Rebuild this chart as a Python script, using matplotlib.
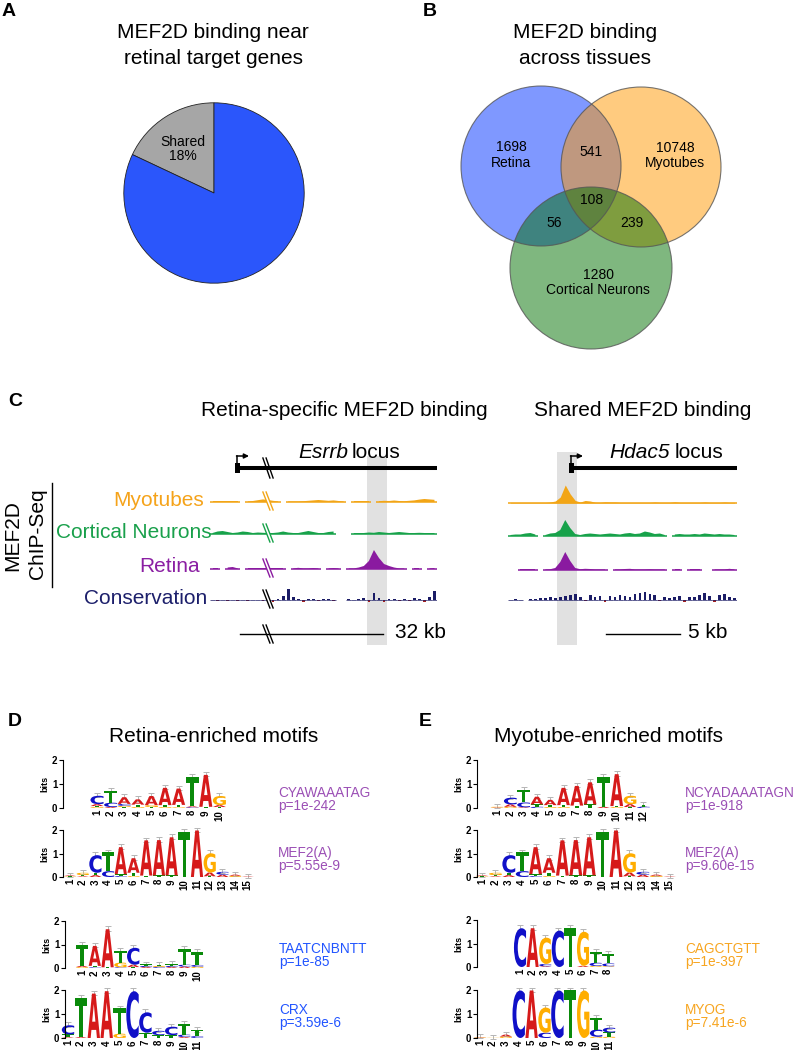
import numpy as np
import matplotlib
matplotlib.use("Agg")
import matplotlib.pyplot as plt
import matplotlib.transforms as mtransforms
from matplotlib.patches import Circle, Rectangle, PathPatch, Polygon
from matplotlib.textpath import TextPath
from matplotlib.font_manager import FontProperties

nan = np.nan

# ============================
# data
# ============================
# panel A
pie_labels = ["Shared", "Retina-specific"]
pie_values = [18, 82]

# panel B (venn region counts)
venn_names = ["Retina", "Myotubes", "Cortical Neurons"]
venn_only = [1698, 10748, 1280]
venn_ret_myo = 541
venn_ret_cort = 56
venn_myo_cort = 239
venn_all = 108

# panel C, signal height per genomic bin (nan = no data)
esrrb_myotubes = [0.6, 0.6, 0.6, 0.6, 0.6, 0.6, nan, 0.6, 1.0, 1.8, 2.6, 2.0, 1.2, 0.6, nan,
                  0.6, 0.6, 0.6, 0.8, 1.2, 1.6, 2.0, 1.6, 1.2, 1.6, 1.0, 0.6, nan, 0.6, 0.6,
                  0.6, 0.6, nan, 0.8, 1.2, 1.0, 1.5, 1.0, 0.8, 1.2, 1.6, 2.4, 3.0, 2.6, 2.2]
esrrb_cortical = [1.0, 2.5, 3.0, 2.0, 1.0, 1.5, 2.5, 2.0, 1.0, 1.5, 1.2, 1.0, 1.0, 1.5, 2.5,
                  1.5, 1.0, 1.0, 2.0, 3.0, 2.0, 1.0, 1.0, 2.0, 2.5, nan, nan, nan, 1.0, 1.0,
                  1.0, 1.5, 1.2, 2.0, 1.5, 1.0, 1.5, 2.0, 1.5, 1.0, 1.0, 1.2, 1.0, 1.0, 1.0]
esrrb_retina = [0.6, 0.6, nan, 1.5, 2.0, 0.6, nan, 0.6, 0.6, 0.6, 0.6, 0.6, 0.6, 0.6, 0.6,
                nan, 0.6, 1.2, 0.6, 0.6, 1.0, 0.6, nan, 0.6, 1.0, 0.6, nan, 0.6, 0.6, 1.5,
                3.0, 8.0, 19.0, 11.0, 5.0, 3.0, 1.5, 0.6, 0.6, nan, 0.6, 0.6, nan, 0.6, 1.0]
esrrb_conservation = [0.5, -0.5, 0.5, -0.5, 0.5, -0.5, 0.5, -0.5, 0.5, 0.5, -1.0, 1.0, -1.5, 1.5, 4.0,
                      11.0, 3.0, 1.5, -1.5, 1.0, 1.0, -1.0, 1.5, 1.0, -1.0, nan, nan, 1.0, 0.5, 1.0,
                      2.0, -2.0, 7.0, 2.0, -2.0, 1.5, 1.0, -1.0, 1.5, -1.0, 2.0, 1.0, -2.0, 3.0, 9.0]

hdac5_myotubes = [0.6, 0.6, 0.6, 0.6, 0.6, 0.6, 0.6, 0.6, 1.0, 2.0, 6.0, 18.0, 9.0, 2.5, 1.0,
                  2.5, 2.0, 0.8, 0.6, 1.2, 1.0, 1.0, 0.6, 0.6, 0.6, 0.6, 0.6, 0.6, 0.6, 1.0,
                  0.6, 0.6, 0.6, 1.2, 0.6, 0.6, 0.6, 0.6, 0.6, 1.0, 0.6, 0.6, 0.6, 1.0, 0.6, 0.6]
hdac5_cortical = [1.0, 1.5, 1.5, 2.5, 3.0, 1.5, nan, 1.0, 2.5, 3.0, 6.0, 16.0, 8.0, 2.0, 1.0,
                  2.0, 2.5, 2.0, 1.5, 2.0, 2.5, 2.0, 1.5, 2.5, 3.0, 2.0, 2.5, 4.5, 3.5, 2.0,
                  2.5, 1.0, nan, 1.5, 2.0, 1.5, 1.5, 2.0, 1.5, 2.5, 2.0, 1.5, 2.0, 1.5, 1.5, 1.0]
hdac5_retina = [nan, nan, 0.6, 0.6, 0.6, 0.6, nan, 0.6, 0.8, 2.0, 8.0, 18.0, 9.0, 2.0, 0.8,
                1.2, 1.0, 0.6, 0.6, 0.6, nan, 0.6, 0.6, 1.0, 1.2, 0.6, 0.6, 0.6, 0.8, 0.6,
                0.6, 0.6, nan, 0.6, 0.6, nan, 0.6, 0.6, 0.6, nan, nan, 0.6, 0.6, 0.6, 1.2, 0.6]
hdac5_conservation = [0.5, 1.0, 0.5, nan, 1.0, 1.5, 2.0, 2.5, 3.0, 2.0, 3.5, 4.5, 5.0, 6.0, 3.0,
                      -1.0, 5.5, 3.0, 4.0, -1.5, 4.0, 3.0, 5.0, 4.5, 3.0, 6.0, 7.0, 8.0, 6.0, 5.0,
                      -1.0, 3.0, 2.0, 3.5, 4.0, -2.0, 3.0, 3.5, 5.0, 7.0, 4.0, -1.5, 5.0, 6.0, 3.0, 2.0]

track_names = ["Myotubes", "Cortical Neurons", "Retina", "Conservation"]

# panels D / E, information content (bits) per letter per position
retina_motif = [{'C': 0.35, 'A': 0.08, 'G': 0.04, 'T': 0.04}, {'T': 0.5, 'C': 0.18, 'A': 0.04},
                {'A': 0.28, 'C': 0.08, 'G': 0.05, 'T': 0.04}, {'A': 0.22, 'T': 0.1, 'G': 0.04},
                {'A': 0.38, 'G': 0.08, 'T': 0.04}, {'A': 0.72, 'T': 0.08, 'G': 0.04},
                {'A': 0.68, 'T': 0.1, 'G': 0.03}, {'T': 1.22, 'A': 0.04, 'C': 0.03},
                {'A': 1.33, 'T': 0.05}, {'G': 0.38, 'A': 0.08, 'T': 0.04}]
mef2a_motif = [{'A': 0.03, 'G': 0.02, 'T': 0.02}, {'G': 0.1, 'T': 0.05, 'A': 0.03},
               {'C': 0.75, 'T': 0.1, 'A': 0.08}, {'T': 0.8, 'C': 0.25},
               {'A': 1.15, 'T': 0.08, 'C': 0.04}, {'A': 0.62, 'T': 0.14, 'G': 0.04},
               {'A': 1.5, 'T': 0.06}, {'A': 1.5, 'T': 0.07}, {'A': 1.62, 'T': 0.07},
               {'T': 1.93}, {'A': 1.98}, {'G': 0.82, 'A': 0.16, 'T': 0.03},
               {'C': 0.12, 'A': 0.1}, {'G': 0.05, 'A': 0.05}, {'A': 0.02}]
homeo_motif = [{'T': 0.9, 'A': 0.05, 'G': 0.04}, {'A': 0.85, 'T': 0.06, 'C': 0.03},
               {'A': 1.62, 'T': 0.03}, {'T': 0.5, 'G': 0.2, 'C': 0.03},
               {'C': 0.72, 'A': 0.1, 'T': 0.04}, {'T': 0.06, 'C': 0.05, 'A': 0.04},
               {'G': 0.05, 'T': 0.05, 'C': 0.04}, {'T': 0.07, 'C': 0.05, 'A': 0.04},
               {'T': 0.68, 'C': 0.08, 'A': 0.06}, {'T': 0.55, 'C': 0.08, 'G': 0.05}]
crx_motif = [{'C': 0.38, 'T': 0.12, 'A': 0.03}, {'T': 1.62, 'A': 0.04}, {'A': 1.85},
             {'A': 1.95}, {'T': 1.05, 'G': 0.18}, {'C': 1.95}, {'C': 0.85, 'T': 0.22},
             {'C': 0.18, 'T': 0.12}, {'C': 0.35, 'T': 0.12}, {'T': 0.45, 'C': 0.1, 'A': 0.04},
             {'T': 0.25, 'C': 0.08}]
myotube_motif = [{'G': 0.03, 'A': 0.02}, {'C': 0.28, 'A': 0.1, 'G': 0.05},
                 {'T': 0.52, 'C': 0.2, 'A': 0.03}, {'A': 0.32, 'T': 0.1, 'C': 0.05},
                 {'A': 0.22, 'T': 0.08, 'G': 0.04}, {'A': 0.72, 'T': 0.08, 'G': 0.04},
                 {'A': 0.82, 'T': 0.1}, {'A': 0.92, 'T': 0.15}, {'T': 1.25, 'A': 0.05},
                 {'A': 1.33, 'G': 0.04, 'T': 0.04}, {'G': 0.35, 'A': 0.12, 'T': 0.04},
                 {'T': 0.08, 'C': 0.05}]
ebox_motif = [{'C': 1.65}, {'A': 1.65}, {'G': 1.12, 'C': 0.1, 'A': 0.03}, {'C': 1.55},
              {'T': 1.65}, {'G': 1.45, 'A': 0.05}, {'T': 0.45, 'C': 0.14, 'G': 0.04},
              {'T': 0.4, 'C': 0.12, 'G': 0.03}]
myog_motif = [{'A': 0.02, 'G': 0.02}, {'G': 0.01}, {'A': 0.08, 'G': 0.06}, {'C': 1.98},
              {'A': 1.98}, {'G': 1.05, 'C': 0.22}, {'C': 1.98}, {'T': 1.98}, {'G': 1.98},
              {'T': 0.5, 'C': 0.3, 'G': 0.05}, {'T': 0.18, 'C': 0.2, 'G': 0.05}]

motif_names = ["CYAWAAATAG", "MEF2(A)", "TAATCNBNTT", "CRX",
               "NCYADAAATAGN", "MEF2(A)", "CAGCTGTT", "MYOG"]
motif_pvals = ["p=1e-242", "p=5.55e-9", "p=1e-85", "p=3.59e-6",
               "p=1e-918", "p=9.60e-15", "p=1e-397", "p=7.41e-6"]

# ============================
# figure setup
# ============================
W, H = 801, 1050
plt.rcParams['font.family'] = ['Liberation Sans', 'DejaVu Sans']
fig = plt.figure(figsize=(W / 100, H / 100), dpi=100)


def px_axes(x0, y0, w, h, z=1):
    ax = fig.add_axes([x0 / W, 1 - (y0 + h) / H, w / W, h / H])
    ax.set_zorder(z)
    ax.patch.set_alpha(0)
    return ax


bg = px_axes(0, 0, W, H, z=0)
bg.set_xlim(0, W); bg.set_ylim(H, 0); bg.axis('off')
fg = px_axes(0, 0, W, H, z=5)
fg.set_xlim(0, W); fg.set_ylim(H, 0); fg.axis('off')

TITLE = 15
for lab, x, y in [("A", 9, 12), ("B", 430, 11), ("C", 15, 401), ("D", 15, 722), ("E", 425, 722)]:
    fg.text(x, y, lab, fontsize=14, fontweight='bold', ha='center', va='center')

# ============================
# A: pie
# ============================
fg.text(213, 33, "MEF2D binding near", fontsize=TITLE, ha='center', va='center')
fg.text(213, 58, "retinal target genes", fontsize=TITLE, ha='center', va='center')
pax = px_axes(122, 101, 184, 184, z=2)
pax.pie(pie_values, colors=["#a6a6a6", "#2b56fb"], startangle=90, counterclock=True,
        wedgeprops=dict(edgecolor="#222222", linewidth=0.6))
pax.set_xlim(-1.02, 1.02); pax.set_ylim(-1.02, 1.02)
fg.text(183, 142, pie_labels[0], fontsize=10, ha='center', va='center')
fg.text(183, 156, f"{pie_values[0]}%", fontsize=10, ha='center', va='center')

# ============================
# B: venn
# ============================
fg.text(585, 33, "MEF2D binding", fontsize=TITLE, ha='center', va='center')
fg.text(585, 58, "across tissues", fontsize=TITLE, ha='center', va='center')
circles = [((541, 166), 80, (0.0, 0.2, 1.0)),
           ((641, 167), 80, (1.0, 0.6, 0.0)),
           ((591, 268), 81, (0.0, 0.44, 0.0))]
for c, r, col in circles:
    bg.add_patch(Circle(c, r, facecolor=col, alpha=0.5, lw=0))
for c, r, col in circles:
    bg.add_patch(Circle(c, r, facecolor='none', edgecolor='#555555', lw=0.8, alpha=0.8))
vfs = 10
fg.text(511, 147, str(venn_only[0]), fontsize=vfs, ha='center', va='center')
fg.text(511, 163, venn_names[0], fontsize=vfs, ha='center', va='center')
fg.text(675, 148, str(venn_only[1]), fontsize=vfs, ha='center', va='center')
fg.text(675, 163, venn_names[1], fontsize=vfs, ha='center', va='center')
fg.text(598, 275, str(venn_only[2]), fontsize=vfs, ha='center', va='center')
fg.text(598, 290, venn_names[2], fontsize=vfs, ha='center', va='center')
fg.text(591, 152, str(venn_ret_myo), fontsize=vfs, ha='center', va='center')
fg.text(592, 200, str(venn_all), fontsize=vfs, ha='center', va='center')
fg.text(554, 223, str(venn_ret_cort), fontsize=vfs, ha='center', va='center')
fg.text(632, 223, str(venn_myo_cort), fontsize=vfs, ha='center', va='center')

# ============================
# C: genome tracks
# ============================
fg.text(344, 410, "Retina-specific MEF2D binding", fontsize=TITLE, ha='center', va='center')
fg.text(643, 410, "Shared MEF2D binding", fontsize=TITLE, ha='center', va='center')

# highlighted peak regions
bg.add_patch(Rectangle((367, 456), 20, 189, facecolor='#e1e1e1', lw=0))
bg.add_patch(Rectangle((557, 452), 20, 193, facecolor='#e1e1e1', lw=0))

# gene models
fg.plot([235, 437], [468, 468], color='k', lw=2.9, solid_capstyle='butt')
fg.plot([572, 737], [468, 468], color='k', lw=2.9, solid_capstyle='butt')
for xs in (235, 569):
    fg.add_patch(Rectangle((xs, 463), 5, 10, facecolor='k', lw=0))
    fg.plot([xs + 2, xs + 2], [466, 456], color='k', lw=1.1)
    fg.annotate('', xy=(xs + 14, 456), xytext=(xs + 1.5, 456),
                arrowprops=dict(arrowstyle='-|>', color='k', lw=1.1, mutation_scale=7,
                                shrinkA=0, shrinkB=0))
fg.text(298, 453, "Esrrb", fontsize=TITLE, style='italic', ha='left', va='center')
fg.text(352, 453, "locus", fontsize=TITLE, ha='left', va='center')
fg.text(609, 453, "Hdac5", fontsize=TITLE, style='italic', ha='left', va='center')
fg.text(675, 453, "locus", fontsize=TITLE, ha='left', va='center')

fill_cols = ["#f2a516", "#17a24a", "#8a1aa0", "#1b1c66"]
text_cols = ["#f5a31a", "#19a04b", "#8b1fa3", "#1c1f6b"]
neg_col = "#a52020"
baselines_left = [502, 534, 569, 600]
baselines_right = [503, 536, 570, 600]
label_x = [204, 212, 200, 207]


def draw_track(x0, w, base, vals, color, conservation=False):
    ax = px_axes(x0, base - 22, w, 28, z=2)
    v = np.array(vals, dtype=float)
    x = np.arange(len(v))
    ax.set_xlim(-0.5, len(v) - 0.5)
    ax.set_ylim(-6, 22)
    ax.axis('off')
    ok = ~np.isnan(v)
    if conservation:
        pos = np.where(v > 0, v, 0)
        neg = np.where(v < 0, v, 0)
        ax.bar(x[ok], pos[ok], width=0.55, color=color, lw=0)
        ax.bar(x[ok], neg[ok], width=0.55, color=neg_col, lw=0)
        ax.hlines(np.zeros(ok.sum()), x[ok] - 0.5, x[ok] + 0.5, color=color, lw=0.5)
    else:
        ax.fill_between(x, 0, v, color=color, lw=0)
        ax.hlines(np.zeros(ok.sum()), x[ok] - 0.5, x[ok] + 0.5, color=color, lw=1.1)
    return ax


left_sets = [esrrb_myotubes, esrrb_cortical, esrrb_retina, esrrb_conservation]
right_sets = [hdac5_myotubes, hdac5_cortical, hdac5_retina, hdac5_conservation]
for i in range(4):
    draw_track(210, 227, baselines_left[i], left_sets[i], fill_cols[i], conservation=(i == 3))
    draw_track(508, 229, baselines_right[i], right_sets[i], fill_cols[i], conservation=(i == 3))
    fg.text(label_x[i], baselines_left[i] - 2, track_names[i], color=text_cols[i],
            fontsize=TITLE, ha='right', va='center')


def draw_break(xc, yc, color, half=9, slant=3.5, gap=3.2):
    pts = []
    for dx in (-gap / 2, gap / 2):
        pts.append([(xc - slant + dx, yc - half), (xc + slant + dx, yc + half)])
    poly = [pts[0][0], pts[1][0], pts[1][1], pts[0][1]]
    fg.add_patch(Polygon(poly, closed=True, facecolor='white', lw=0))
    for p in pts:
        fg.plot([p[0][0], p[1][0]], [p[0][1], p[1][1]], color=color, lw=1.0)


draw_break(268, 468, 'k', half=10)
break_cols = [fill_cols[0], fill_cols[1], fill_cols[2], 'k']
for i in range(4):
    draw_break(268, baselines_left[i] - 1, break_cols[i])

# MEF2D ChIP-Seq side label
fg.text(13, 536, "MEF2D", fontsize=TITLE, rotation=90, ha='center', va='center')
fg.text(37, 534, "ChIP-Seq", fontsize=TITLE, rotation=90, ha='center', va='center')
fg.plot([52, 52], [483, 587], color='k', lw=1.0)

# scale bars
fg.plot([240, 383], [634, 634], color='k', lw=1.0)
draw_break(268, 634, 'k', half=9)
fg.text(395, 633, "32 kb", fontsize=TITLE, ha='left', va='center')
fg.plot([606, 680], [634, 634], color='k', lw=1.0)
fg.text(688, 633, "5 kb", fontsize=TITLE, ha='left', va='center')

# ============================
# D / E: sequence logos
# ============================
LETTER_COLORS = {'A': '#d61a1a', 'C': '#1010c8', 'G': '#ffad00', 'T': '#0a8a0a'}
LOGO_FP = FontProperties(family='DejaVu Sans', weight='bold')
_glyphs = {}


def draw_letter(ax, ch, x, y0, h, w=0.96):
    if ch not in _glyphs:
        _glyphs[ch] = TextPath((0, 0), ch, size=1, prop=LOGO_FP)
    p = _glyphs[ch]
    bb = p.get_extents()
    t = (mtransforms.Affine2D().translate(-bb.x0, -bb.y0)
         .scale(w / bb.width, h / bb.height).translate(x - w / 2, y0))
    ax.add_patch(PathPatch(p, transform=t + ax.transData, facecolor=LETTER_COLORS[ch],
                           lw=0, clip_on=False))


def draw_logo(box, motif):
    L, top, bottom, p1, step = box
    n = len(motif)
    xlo = 1 - (p1 - L) / step
    xhi = n + 0.6
    ax = px_axes(L, top, (xhi - xlo) * step, bottom - top, z=2)
    ax.set_xlim(xlo, xhi)
    ax.set_ylim(0, 2)
    for i, col in enumerate(motif, start=1):
        y = 0.0
        for ch, h in sorted(col.items(), key=lambda kv: kv[1]):
            draw_letter(ax, ch, i, y, h)
            y += h
        ax.errorbar([i], [y], yerr=[[0.06], [0.12]], color='#b5b5b5', lw=0.7,
                    capsize=2.2, capthick=0.7, zorder=0.5, clip_on=False)
    for s in ('top', 'right', 'bottom'):
        ax.spines[s].set_visible(False)
    ax.spines['left'].set_linewidth(0.8)
    ax.set_yticks([0, 1, 2])
    ax.set_yticklabels(['0', '1', '2'], fontsize=7, fontweight='bold')
    ax.set_xticks(range(1, n + 1))
    ax.set_xticklabels([str(k) for k in range(1, n + 1)], fontsize=7,
                       fontweight='bold', rotation=90)
    ax.tick_params(axis='x', length=0, pad=1.5)
    ax.tick_params(axis='y', length=3, width=0.8, pad=1)
    ax.set_ylabel("bits", fontsize=6.5, fontweight='bold', labelpad=2)
    return ax


fg.text(214, 737, "Retina-enriched motifs", fontsize=TITLE, ha='center', va='center')
fg.text(609, 737, "Myotube-enriched motifs", fontsize=TITLE, ha='center', va='center')

logos = [retina_motif, mef2a_motif, homeo_motif, crx_motif,
         myotube_motif, mef2a_motif, ebox_motif, myog_motif]
boxes = [(63, 760, 808, 97, 13.6), (63, 830, 877, 70, 12.7),
         (65, 921, 968, 82, 12.8), (65, 990, 1038, 68, 12.9),
         (477, 760, 808, 497, 13.3), (477, 830, 877, 482, 13.4),
         (477, 920, 967, 520, 12.6), (477, 990, 1038, 480, 12.9)]
label_pos = [(278, 793), (278, 853), (279, 949), (279, 1010),
             (685, 793), (685, 853), (685, 949), (685, 1010)]
label_cols = ["#9b4fb5", "#9b4fb5", "#2255ff", "#2255ff",
              "#9b4fb5", "#9b4fb5", "#f7a520", "#f7a520"]
for k in range(8):
    draw_logo(boxes[k], logos[k])
    lx, ly = label_pos[k]
    fg.text(lx, ly, motif_names[k], color=label_cols[k], fontsize=9.8, ha='left', va='center')
    fg.text(lx, ly + 13, motif_pvals[k], color=label_cols[k], fontsize=9.8, ha='left', va='center')

fig.savefig("out.png", dpi=100)
